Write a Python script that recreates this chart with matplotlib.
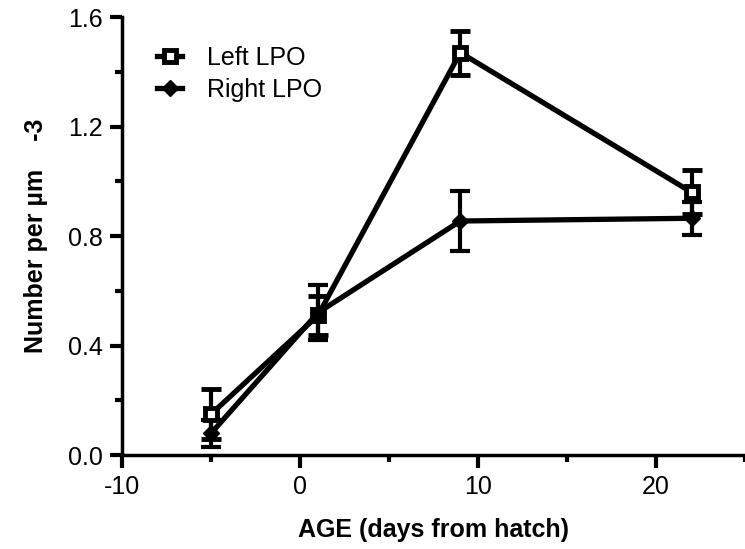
import matplotlib.pyplot as plt
from matplotlib.lines import Line2D
from matplotlib.ticker import MultipleLocator

plt.rcParams['font.family'] = ['Liberation Sans', 'DejaVu Sans']
plt.rcParams['axes.unicode_minus'] = False

# age in days from hatch
age = [-5, 1, 9, 22]

left_lpo = [0.15, 0.51, 1.47, 0.96]
left_err = [0.09, 0.07, 0.08, 0.08]

right_lpo = [0.08, 0.52, 0.855, 0.865]
right_err = [0.05, 0.10, 0.11, 0.06]

fig = plt.figure(figsize=(7.45, 5.49), dpi=100)
ax = fig.add_axes([0.164, 0.171, 0.836, 0.798])

sq = dict(marker='s', ms=9, mfc='white', mec='black', mew=3.5)
dm = dict(marker='D', ms=8, mfc='black', mec='black')

ax.errorbar(age, left_lpo, yerr=left_err, color='black', lw=3.8,
            elinewidth=3, capsize=7, capthick=3, zorder=3, **sq)
ax.errorbar(age, right_lpo, yerr=right_err, color='black', lw=3.8,
            elinewidth=3, capsize=7, capthick=3, zorder=3, **dm)

ax.set_xlim(-10, 25)
ax.set_ylim(0, 1.6)
ax.set_xticks([-10, 0, 10, 20])
ax.xaxis.set_minor_locator(MultipleLocator(5))
ax.set_yticks([0.0, 0.4, 0.8, 1.2, 1.6])
ax.set_yticklabels(['0.0', '0.4', '0.8', '1.2', '1.6'])
ax.yaxis.set_minor_locator(MultipleLocator(0.2))

for side in ['top', 'right']:
    ax.spines[side].set_visible(False)
for side in ['left', 'bottom']:
    ax.spines[side].set_linewidth(2.5)

ax.tick_params(which='major', direction='out', length=9, width=3, labelsize=18, pad=5)
ax.tick_params(which='minor', direction='out', length=5, width=3)

ax.set_xlabel('AGE (days from hatch)', fontsize=18, fontweight='bold', labelpad=14)
ax.set_ylabel('Number per \u00b5m    -3', fontsize=18, fontweight='bold', labelpad=14)

handles = [Line2D([], [], color='black', lw=3.8, **sq),
           Line2D([], [], color='black', lw=3.8, **dm)]
ax.legend(handles, ['Left LPO', 'Right LPO'], loc='upper left',
          bbox_to_anchor=(0.02, 0.985), frameon=False, fontsize=18,
          handlelength=1.0, handletextpad=1.0, labelspacing=0.3)

fig.savefig('out.png', dpi=100)
